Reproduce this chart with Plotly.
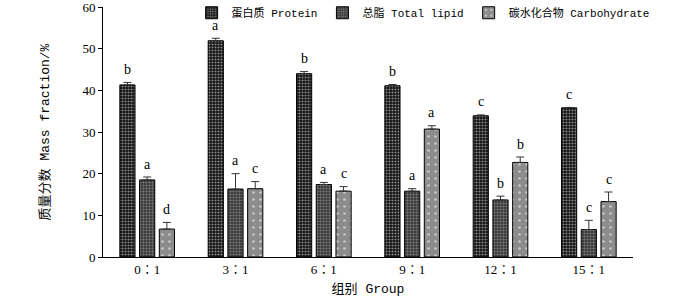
import plotly.graph_objects as go

groups = ["0∶1", "3∶1", "6∶1", "9∶1", "12∶1", "15∶1"]
protein = [41.3, 51.9, 44.0, 41.1, 33.9, 35.8]
protein_err = [0.6, 0.6, 0.5, 0.3, 0.2, 0.1]
lipid = [18.5, 16.3, 17.4, 15.8, 13.7, 6.6]
lipid_err = [0.7, 3.7, 0.5, 0.6, 0.9, 2.2]
carb = [6.7, 16.4, 15.8, 30.7, 22.7, 13.3]
carb_err = [1.6, 1.7, 1.1, 0.8, 1.3, 2.3]
protein_sig = ["b", "a", "b", "b", "c", "c"]
lipid_sig = ["a", "a", "a", "a", "b", "c"]
carb_sig = ["d", "c", "c", "a", "b", "c"]
names = ["蛋白质 Protein", "总脂 Total lipid", "碳水化合物 Carbohydrate"]

FONT = "Liberation Mono, Noto Sans CJK SC, monospace"

series = [
    (names[0], protein, protein_err, protein_sig, "#111111",
     dict(shape=".", fgcolor="#ffffff", size=3, solidity=0.4, fillmode="overlay")),
    (names[1], lipid, lipid_err, lipid_sig, "#3c3c3c",
     dict(shape="+", fgcolor="#c8c8c8", size=3, solidity=0.3, fillmode="overlay")),
    (names[2], carb, carb_err, carb_sig, "#8c8c8c",
     dict(shape=".", fgcolor="#ffffff", size=7, solidity=0.12, fillmode="overlay")),
]

fig = go.Figure()
for k, (name, vals, errs, sig, col, pat) in enumerate(series):
    fig.add_trace(go.Bar(
        x=groups, y=vals, name=name,
        marker=dict(color=col, pattern=pat, line=dict(color="#000000", width=1)),
        error_y=dict(type="data", array=errs, arrayminus=[0] * len(errs), symmetric=False,
                     color="#333333", thickness=1, width=4),
        offsetgroup=name,
    ))

# significance letters
n = 3
bargap = 0.33
slot = (1 - bargap) / n
for i, (name, vals, errs, sig, col, pat) in enumerate(series):
    off = (i - 1) * slot
    for j, g in enumerate(groups):
        fig.add_annotation(
            x=j + off, y=vals[j] + errs[j], xref="x", yref="y",
            text=sig[j], showarrow=False, yshift=13,
            font=dict(family="Liberation Serif, serif", size=14, color="#000000"),
        )

fig.update_layout(
    width=700, height=297,
    margin=dict(l=103, r=67, t=7, b=40, autoexpand=False),
    paper_bgcolor="white", plot_bgcolor="white",
    barmode="group", bargap=bargap, bargroupgap=0.23,
    font=dict(family=FONT, size=12, color="#000000"),
    showlegend=True,
    legend=dict(orientation="h", x=0.604, y=1.035, xanchor="center", yanchor="top",
                bgcolor="rgba(0,0,0,0)", font=dict(family=FONT, size=11),
                itemwidth=30, traceorder="normal"),
    xaxis=dict(type="category", range=[-0.5, 5.5], showline=True, linecolor="#000000",
               linewidth=1, ticks="", showgrid=False, zeroline=False,
               tickfont=dict(family="Liberation Serif, Noto Sans CJK SC, serif", size=13),
               title=dict(text="组别 Group", font=dict(family=FONT, size=13), standoff=8)),
    yaxis=dict(range=[0, 60], dtick=10, showline=True, linecolor="#000000", linewidth=1,
               ticks="outside", ticklen=4, tickcolor="#000000", showgrid=False, zeroline=False,
               ticklabeloverflow="allow",
               tickfont=dict(family="Liberation Serif, serif", size=13),
               title=dict(text="质量分数 Mass fraction/%", font=dict(family=FONT, size=13), standoff=29)),
)

fig.write_html("out.html", config={"displayModeBar": False},
               post_script="document.body.style.margin='0';")
